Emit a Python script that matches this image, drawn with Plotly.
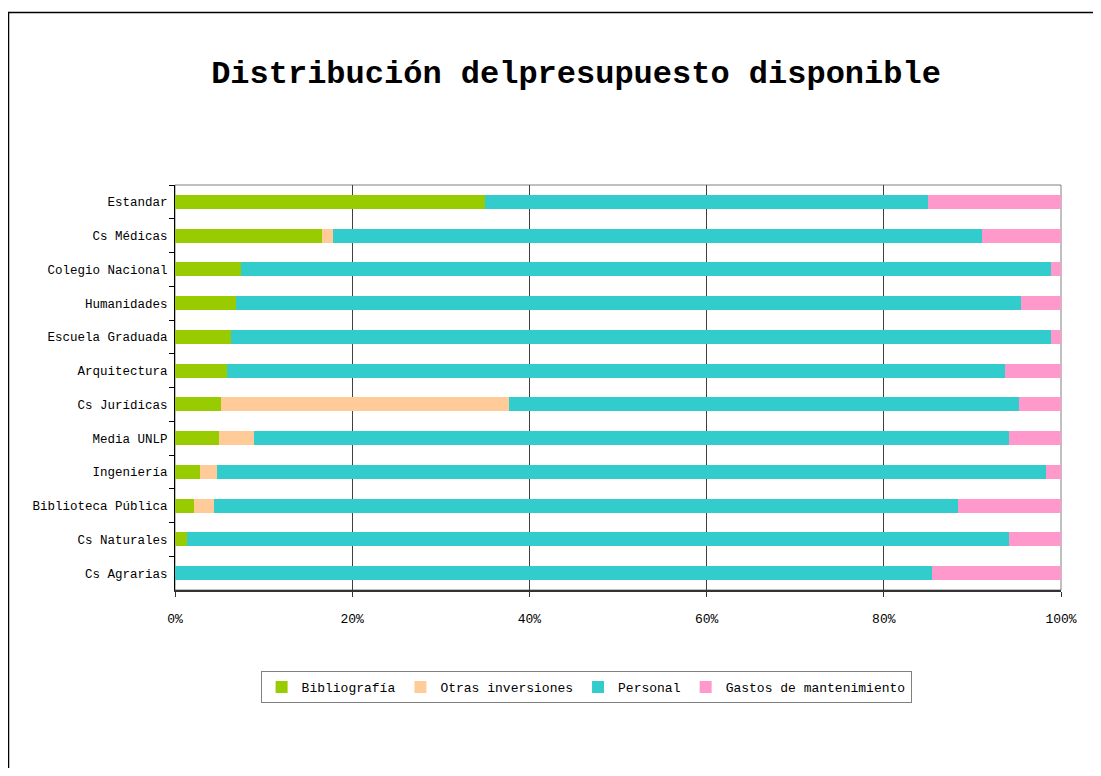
import plotly.graph_objects as go

categories = ["Estandar", "Cs Médicas", "Colegio Nacional", "Humanidades", "Escuela Graduada",
              "Arquitectura", "Cs Jurídicas", "Media UNLP", "Ingeniería", "Biblioteca Pública",
              "Cs Naturales", "Cs Agrarias"]
bibliografia = [35.0, 16.6, 7.5, 6.9, 6.3, 5.9, 5.2, 5.0, 2.8, 2.1, 1.4, 0.0]
otras_inversiones = [0.0, 1.2, 0.0, 0.0, 0.0, 0.0, 32.5, 3.9, 1.9, 2.3, 0.0, 0.0]
personal = [50.0, 73.3, 91.4, 88.6, 92.6, 87.8, 57.6, 85.2, 93.6, 84.0, 92.7, 85.4]
gastos = [15.0, 8.9, 1.1, 4.5, 1.1, 6.3, 4.7, 5.9, 1.7, 11.6, 5.9, 14.6]
x_ticks = [0, 20, 40, 60, 80, 100]
x_tick_labels = ["0%", "20%", "40%", "60%", "80%", "100%"]

series = [
    ("Bibliografía", bibliografia, "#99CC00"),
    ("Otras inversiones", otras_inversiones, "#FFCC99"),
    ("Personal", personal, "#33CCCC"),
    ("Gastos de mantenimiento", gastos, "#FF99CC"),
]

FONT = "Liberation Mono"
W, H = 1085, 760
L, T = 167, 177
PW, PH = 886, 405

fig = go.Figure()
for name, vals, color in series:
    fig.add_trace(go.Bar(
        y=categories, x=vals, name=name, orientation="h",
        marker=dict(color=color, line=dict(width=0)),
    ))

fig.update_layout(
    barmode="stack",
    barnorm="percent",
    bargap=0.59,
    width=W, height=H,
    margin=dict(l=L, r=W - L - PW, t=T, b=H - T - PH, pad=0),
    paper_bgcolor="white",
    plot_bgcolor="white",
    font=dict(family=FONT, size=13, color="black"),
    title=dict(text="<b>Distribución delpresupuesto disponible</b>",
               x=568 / W, xanchor="center", y=1 - 64 / H, yanchor="middle",
               yref="container", font=dict(family=FONT, size=32, color="black")),
    showlegend=True,
    legend=dict(orientation="h", x=0.464, xanchor="center", y=-0.2, yanchor="top",
                bordercolor="#808080", borderwidth=1, font=dict(family=FONT, size=13),
                itemwidth=30, traceorder="normal"),
    xaxis=dict(range=[0, 100], tickvals=x_ticks, ticktext=x_tick_labels,
               showgrid=True, gridcolor="#404040", gridwidth=1,
               showline=True, linecolor="#333333", linewidth=2,
               ticks="outside", ticklen=5, tickcolor="#333333",
               ticklabelstandoff=10, zeroline=False, fixedrange=True,
               tickfont=dict(size=13)),
    yaxis=dict(autorange="reversed", showline=True, linecolor="black", linewidth=1,
               ticks="outside", ticklen=5, tickcolor="black", tickson="boundaries",
               ticklabelstandoff=4, showgrid=False, fixedrange=True,
               tickfont=dict(size=12.5)),
    shapes=[
        dict(type="rect", xref="paper", yref="paper", x0=0, x1=1, y0=0, y1=1,
             line=dict(color="#808080", width=1), layer="below"),
        dict(type="rect", xref="paper", yref="paper",
             x0=(0.5 - L) / PW, x1=1.2, y0=-0.6, y1=(T + PH - 4.5) / PH,
             line=dict(color="black", width=1.5)),
    ],
)

fig.write_html("out.html")
